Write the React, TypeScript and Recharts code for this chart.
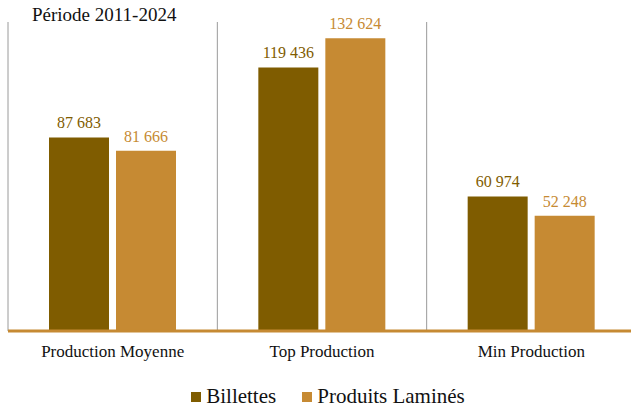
import React from 'react'
import { Bar, BarChart, LabelList, ReferenceLine, XAxis, YAxis } from 'recharts';

const FONT = '"Liberation Serif", "DejaVu Serif", serif';
const BILLETTES_COLOR = '#7F5C00';
const LAMINES_COLOR = '#C68A33';

// DONNEES
const categories = ['Production Moyenne', 'Top Production', 'Min Production'];
const billettes = [87683, 119436, 60974];
const produitsLamines = [81666, 132624, 52248];

const data = categories.map((name, i) => ({
    name,
    billettes: billettes[i],
    lamines: produitsLamines[i],
}));

const formatNumber = (v: any) => String(v).replace(/\B(?=(\d{3})+(?!\d))/g, ' ');

export default function App() {
    return (
        <div style={{ position: 'absolute', left: 0, top: 0, width: 631, height: 408, overflow: 'hidden', background: '#fff', fontFamily: FONT }}>
            <div style={{ position: 'absolute', left: 32, top: 4, fontSize: 19, color: '#111', zIndex: 2, fontFamily: FONT }}>
                Période 2011-2024
            </div>
            <BarChart
                width={640}
                height={408}
                data={data}
                margin={{ top: 22, right: 4, bottom: 47, left: 8 }}
                barCategoryGap={41}
                barGap={7}
            >
                <YAxis domain={[0, 140000]} hide />
                {/* separateurs entre categories */}
                {categories.map(c => (
                    <ReferenceLine key={c} x={c} position="start" stroke="#9a9a9a" strokeWidth={1} ifOverflow="visible" />
                ))}
                <ReferenceLine x={categories[categories.length - 1]} position="end" stroke="#9a9a9a" strokeWidth={1} ifOverflow="visible" />
                <Bar dataKey="billettes" fill={BILLETTES_COLOR} isAnimationActive={false}>
                    <LabelList dataKey="billettes" position="top" offset={9} formatter={formatNumber}
                        style={{ fill: BILLETTES_COLOR, fontSize: 16, fontFamily: FONT }} />
                </Bar>
                <Bar dataKey="lamines" fill={LAMINES_COLOR} isAnimationActive={false}>
                    <LabelList dataKey="lamines" position="top" offset={9} formatter={formatNumber}
                        style={{ fill: LAMINES_COLOR, fontSize: 16, fontFamily: FONT }} />
                </Bar>
                <XAxis
                    dataKey="name"
                    height={30}
                    axisLine={{ stroke: LAMINES_COLOR, strokeWidth: 3 }}
                    tickLine={false}
                    tickMargin={8}
                    tick={{ fill: '#111', fontSize: 17, fontFamily: FONT }}
                />
            </BarChart>
            <div style={{ position: 'absolute', left: 0, width: 656, top: 384, display: 'flex', justifyContent: 'center', alignItems: 'center', fontSize: 21, color: '#111', fontFamily: FONT }}>
                <span style={{ display: 'inline-block', width: 10, height: 10, background: BILLETTES_COLOR, marginRight: 5 }} />
                <span style={{ marginRight: 26, fontFamily: FONT }}>Billettes</span>
                <span style={{ display: 'inline-block', width: 10, height: 10, background: LAMINES_COLOR, marginRight: 5 }} />
                <span style={{ fontFamily: FONT }}>Produits Laminés</span>
            </div>
        </div>
    )
}
